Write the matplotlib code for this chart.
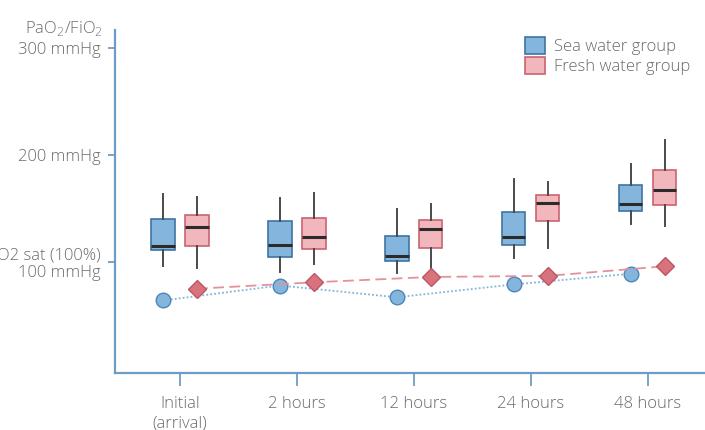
import matplotlib
matplotlib.use("Agg")
import matplotlib.pyplot as plt
from matplotlib.patches import Patch

plt.rcParams['font.family'] = ['Open Sans', 'DejaVu Sans']
plt.rcParams['font.weight'] = 'light'

categories = ["Initial\n(arrival)", "2 hours", "12 hours", "24 hours", "48 hours"]

# box stats: whisker low, q1, median, q3, whisker high
sea_whislo = [96, 91, 90, 104, 136]
sea_q1 = [111, 105, 101, 116, 148]
sea_med = [115, 116, 106, 123, 154]
sea_q3 = [140, 138, 124, 147, 172]
sea_whishi = [164, 160, 150, 178, 192]

fresh_whislo = [94, 98, 93, 113, 134]
fresh_q1 = [115, 112, 113, 138, 153]
fresh_med = [133, 123, 131, 155, 167]
fresh_q3 = [144, 141, 139, 163, 186]
fresh_whishi = [161, 165, 154, 175, 214]

sea_o2 = [64, 78, 67, 79, 89]
fresh_o2 = [75, 81, 86, 87, 96]

ytick_vals = [100, 200, 300]
ytick_labels = ["O2 sat (100%)\n100 mmHg", "200 mmHg", "300 mmHg"]

fig = plt.figure(figsize=(7.05, 4.3), dpi=100)
ax = fig.add_axes([0.163, 0.133, 0.837, 0.797])

x = list(range(len(categories)))
off = 0.145
w = 0.2

def stats(lo, q1, med, q3, hi):
    return [dict(whislo=a, q1=b, med=c, q3=d, whishi=e, fliers=[])
            for a, b, c, d, e in zip(lo, q1, med, q3, hi)]

axis_col = "#6f9cc4"
blue_face = "#84b6dd"
blue_edge = "#3f73a3"
pink_face = "#f1b7bd"
pink_edge = "#c9646f"
txt_col = "#6a6a6a"

for st, pos, face, edge in [
    (stats(sea_whislo, sea_q1, sea_med, sea_q3, sea_whishi), [i - off for i in x], blue_face, blue_edge),
    (stats(fresh_whislo, fresh_q1, fresh_med, fresh_q3, fresh_whishi), [i + off for i in x], pink_face, pink_edge),
]:
    ax.bxp(st, positions=pos, widths=w, patch_artist=True, showcaps=False,
           boxprops=dict(facecolor=face, edgecolor=edge, linewidth=1.2),
           medianprops=dict(color="#2b2b2b", linewidth=2.2),
           whiskerprops=dict(color="#4a4a4a", linewidth=1.4), zorder=3)

ax.plot([i - off for i in x], sea_o2, linestyle=(0, (1, 1.2)), color="#7fb6da",
        linewidth=1.3, marker="o", markersize=10.5, markerfacecolor="#84b6dd",
        markeredgecolor="#4c86b8", markeredgewidth=1.0, zorder=4)
ax.plot([i + off for i in x], fresh_o2, linestyle=(0, (6, 3)), color="#e3929b",
        linewidth=1.3, marker="D", markersize=9.5, markerfacecolor="#d8727d",
        markeredgecolor="#bd5662", markeredgewidth=1.0, zorder=4)

ax.set_xlim(-0.556, 4.49)
ax.set_ylim(-3.7, 317)

for s in ["top", "right"]:
    ax.spines[s].set_visible(False)
for s in ["left", "bottom"]:
    ax.spines[s].set_color(axis_col)
    ax.spines[s].set_linewidth(1.6)

ax.set_xticks(x)
ax.set_xticklabels(categories, fontsize=12, color=txt_col, linespacing=1.25)
ax.set_yticks(ytick_vals)
ax.set_yticklabels(ytick_labels, fontsize=12, color=txt_col, linespacing=1.1)
ax.tick_params(axis="x", length=9, width=1.3, color=axis_col, pad=8)
ax.tick_params(axis="y", length=5, width=1.3, color=axis_col, pad=5)

ax.text(-0.66, 310, "PaO$_2$/FiO$_2$", ha="right", va="bottom", fontsize=12,
        color=txt_col)

handles = [Patch(facecolor=blue_face, edgecolor=blue_edge, linewidth=1.2, label="Sea water group"),
           Patch(facecolor=pink_face, edgecolor=pink_edge, linewidth=1.2, label="Fresh water group")]
leg = ax.legend(handles=handles, loc="upper right", bbox_to_anchor=(1.0, 1.025), frameon=False,
                fontsize=12, handlelength=1.2, handleheight=1.2, handletextpad=0.5,
                labelspacing=0.15, labelcolor=txt_col)

fig.savefig("out.png", dpi=100)
